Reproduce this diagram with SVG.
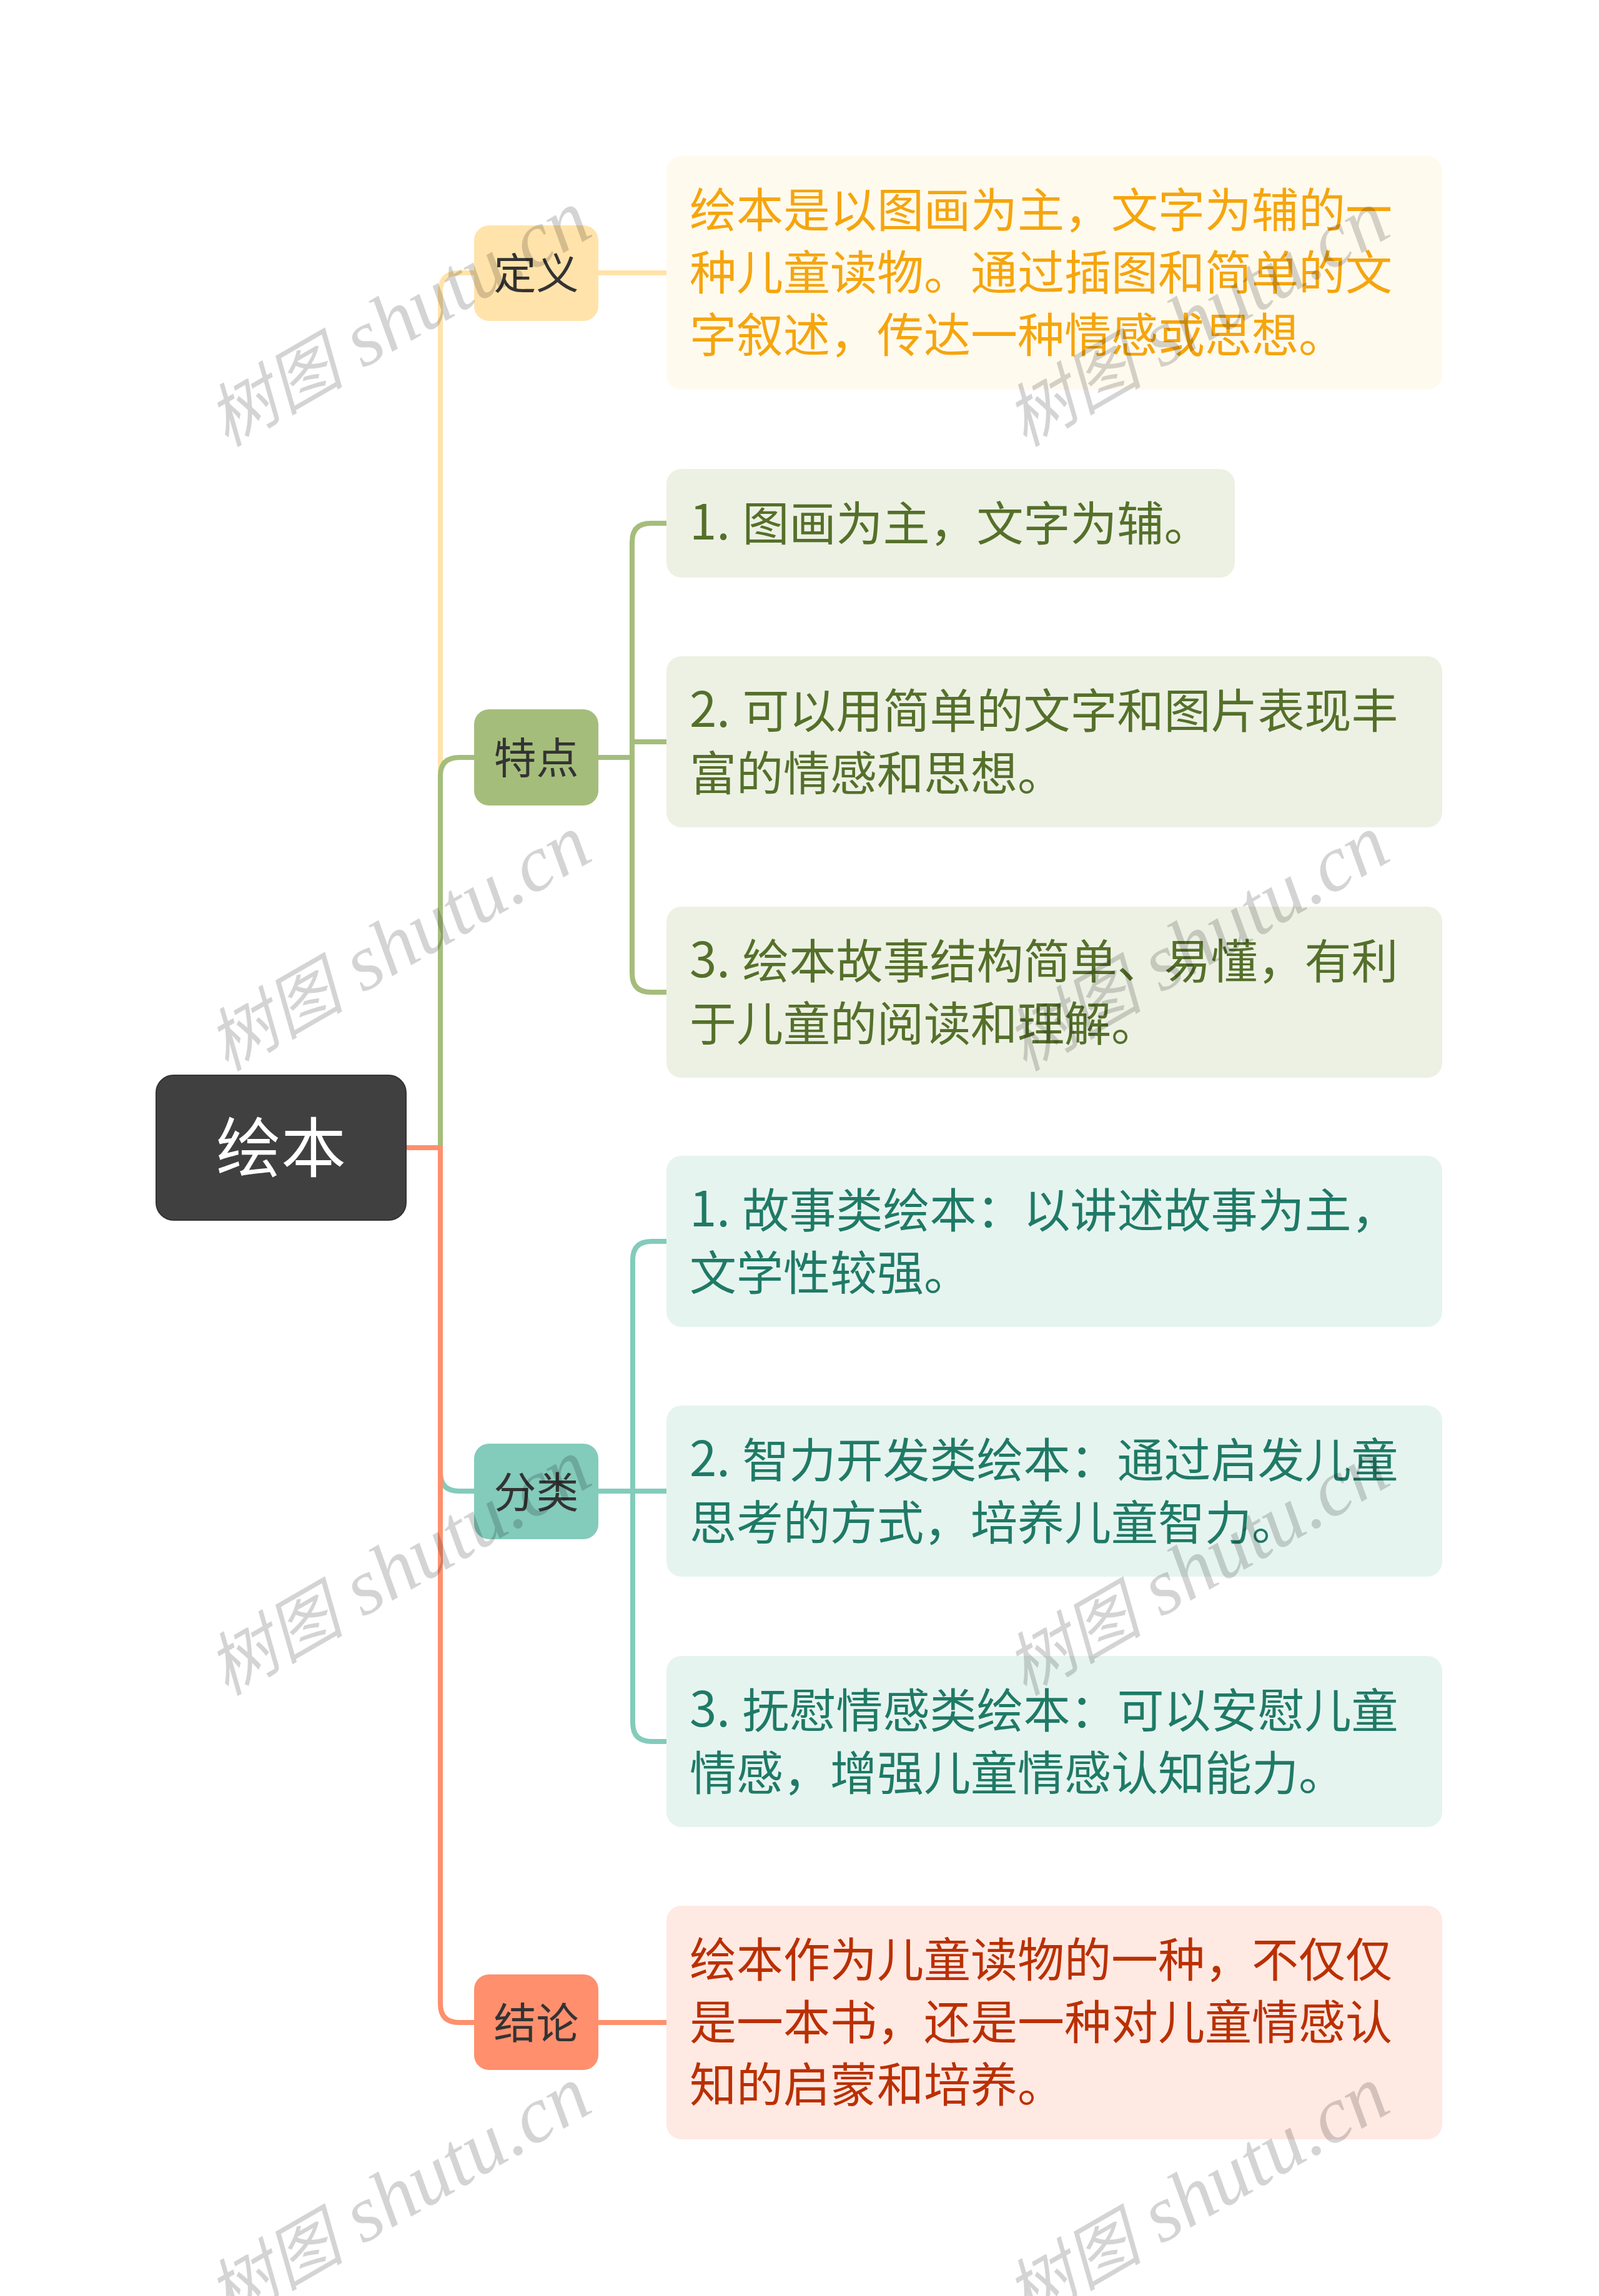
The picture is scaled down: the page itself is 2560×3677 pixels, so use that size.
<svg xmlns="http://www.w3.org/2000/svg" width="2560" height="3677" viewBox="0 0 2560 3677">
<style>
text{font-family:"Noto Sans CJK SC","Noto Sans",sans-serif}
.c{fill:none;stroke-width:8}
.y{stroke:#FFE3AA}.g{stroke:#A5BD7B}.t{stroke:#83CBBB}.o{stroke:#FF8F6D}
.n{font-size:68px;fill:#333;text-anchor:middle}
.d{font-size:75px}
.l{font-size:78px}
.wm{font-family:"Liberation Serif","Noto Sans CJK SC",serif;font-style:italic;font-size:128px;fill:#000;fill-opacity:.17;text-anchor:middle}
.wc{font-family:"Noto Sans CJK SC",serif;font-size:110px}
</style>
<rect width="2560" height="3677" fill="#fff"/>
<g id="connectors">
<path class="c y" d="M705 1838V467Q705 437 735 437H759M958 437H1067"/>
<path class="c g" d="M705 1838V1243Q705 1213 735 1213H759M958 1213H1012M1012 1188H1067M1067 838H1042Q1012 838 1012 868V1559Q1012 1589 1042 1589H1067"/>
<path class="c t" d="M705 2358Q705 2388 735 2388H759M958 2388H1067M1067 1988H1043Q1013 1988 1013 2018V2759Q1013 2789 1043 2789H1067"/>
<path class="c o" d="M650 1838H705V3209Q705 3239 735 3239H760M958 3239H1068"/>
</g>
<g id="root"><rect x="250" y="1722" width="400" height="232" rx="28" fill="#404040" stroke="#333" stroke-width="2"/><text x="450" y="1877" font-size="104" fill="#fff" text-anchor="middle">绘本</text></g>
<g id="n-def"><rect x="759" y="361" width="199" height="153" rx="24" fill="#FFE3AA"/><text class="n" x="858.500" y="463">定义</text></g>
<g id="n-def-d"><rect x="1067" y="250" width="1242" height="374" rx="24" fill="#FFFAEE"/><text class="d" fill="#F5A50E"><tspan x="1104" y="364">绘本是以图画为主，文字为辅的一</tspan><tspan x="1104" y="464">种儿童读物。通过插图和简单的文</tspan><tspan x="1104" y="564">字叙述，传达一种情感或思想。</tspan></text></g>
<g id="n-fea"><rect x="759" y="1136" width="199" height="154" rx="24" fill="#A5BD7B"/><text class="n" x="858.500" y="1239">特点</text></g>
<g id="n-fea-1"><rect x="1067" y="751" width="910" height="174" rx="24" fill="#EDF1E4"/><text class="d" fill="#55702A"><tspan class="l" x="1104" y="864">1. </tspan><tspan dx="2" y="866">图画为主，文字为辅。</tspan></text></g>
<g id="n-fea-2"><rect x="1067" y="1051" width="1242" height="274" rx="24" fill="#EDF1E4"/><text class="d" fill="#55702A"><tspan class="l" x="1104" y="1164">2. </tspan><tspan dx="2" y="1166">可以用简单的文字和图片表现丰</tspan><tspan x="1104" y="1266">富的情感和思想。</tspan></text></g>
<g id="n-fea-3"><rect x="1067" y="1452" width="1242" height="274" rx="24" fill="#EDF1E4"/><text class="d" fill="#55702A"><tspan class="l" x="1104" y="1565">3. </tspan><tspan dx="2" y="1567">绘本故事结构简单、易懂，有利</tspan><tspan x="1104" y="1667">于儿童的阅读和理解。</tspan></text></g>
<g id="n-cat"><rect x="759" y="2312" width="199" height="153" rx="24" fill="#83CBBB"/><text class="n" x="858.500" y="2415">分类</text></g>
<g id="n-cat-1"><rect x="1067" y="1851" width="1242" height="274" rx="24" fill="#E6F4F0"/><text class="d" fill="#1F7A66"><tspan class="l" x="1104" y="1964">1. </tspan><tspan dx="2" y="1966">故事类绘本：以讲述故事为主，</tspan><tspan x="1104" y="2066">文学性较强。</tspan></text></g>
<g id="n-cat-2"><rect x="1067" y="2251" width="1242" height="274" rx="24" fill="#E6F4F0"/><text class="d" fill="#1F7A66"><tspan class="l" x="1104" y="2364">2. </tspan><tspan dx="2" y="2366">智力开发类绘本：通过启发儿童</tspan><tspan x="1104" y="2466">思考的方式，培养儿童智力。</tspan></text></g>
<g id="n-cat-3"><rect x="1067" y="2652" width="1242" height="274" rx="24" fill="#E6F4F0"/><text class="d" fill="#1F7A66"><tspan class="l" x="1104" y="2765">3. </tspan><tspan dx="2" y="2767">抚慰情感类绘本：可以安慰儿童</tspan><tspan x="1104" y="2867">情感，增强儿童情感认知能力。</tspan></text></g>
<g id="n-con"><rect x="759" y="3162" width="199" height="153" rx="24" fill="#FF8F6D"/><text class="n" x="858.500" y="3265">结论</text></g>
<g id="n-con-d"><rect x="1067" y="3052" width="1242" height="374" rx="24" fill="#FFE9E3"/><text class="d" fill="#BA3000"><tspan x="1104" y="3166">绘本作为儿童读物的一种，不仅仅</tspan><tspan x="1104" y="3266">是一本书，还是一种对儿童情感认</tspan><tspan x="1104" y="3366">知的启蒙和培养。</tspan></text></g>
<g id="watermarks">
<text class="wm" transform="translate(658 546) rotate(-30)"><tspan class="wc">树图</tspan> shutu.cn</text>
<text class="wm" transform="translate(1936 546) rotate(-30)"><tspan class="wc">树图</tspan> shutu.cn</text>
<text class="wm" transform="translate(658 1546) rotate(-30)"><tspan class="wc">树图</tspan> shutu.cn</text>
<text class="wm" transform="translate(1936 1546) rotate(-30)"><tspan class="wc">树图</tspan> shutu.cn</text>
<text class="wm" transform="translate(658 2546) rotate(-30)"><tspan class="wc">树图</tspan> shutu.cn</text>
<text class="wm" transform="translate(1936 2546) rotate(-30)"><tspan class="wc">树图</tspan> shutu.cn</text>
<text class="wm" transform="translate(658 3550) rotate(-30)"><tspan class="wc">树图</tspan> shutu.cn</text>
<text class="wm" transform="translate(1936 3550) rotate(-30)"><tspan class="wc">树图</tspan> shutu.cn</text>
</g>
</svg>
